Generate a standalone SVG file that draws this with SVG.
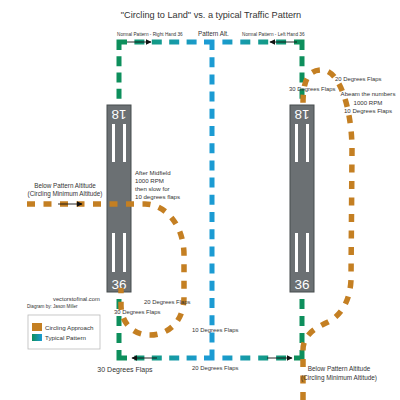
<svg xmlns="http://www.w3.org/2000/svg" width="400" height="400" viewBox="0 0 400 400">
<defs>
<linearGradient id="gH" gradientUnits="userSpaceOnUse" x1="119" y1="0" x2="302" y2="0">
<stop offset="0" stop-color="#0d8f5c"/>
<stop offset="0.2" stop-color="#139a88"/>
<stop offset="0.45" stop-color="#1b9bd3"/>
<stop offset="0.55" stop-color="#1b9bd3"/>
<stop offset="0.8" stop-color="#139a88"/>
<stop offset="1" stop-color="#0d8f5c"/>
</linearGradient>
<linearGradient id="gL" x1="0" y1="0" x2="1" y2="0">
<stop offset="0" stop-color="#0d8f5c"/>
<stop offset="1" stop-color="#1b9bd3"/>
</linearGradient>
<marker id="ah" viewBox="0 0 10 10" refX="9" refY="5" markerWidth="6" markerHeight="6" orient="auto" markerUnits="userSpaceOnUse">
<path d="M0,0 L10,5 L0,10 z" fill="#111"/>
</marker>
<style>
.t{font-family:"Liberation Sans",Arial,sans-serif;fill:#333}
.pat{fill:none;stroke-width:5;stroke-linecap:butt}
.cor{fill:none;stroke-width:5;stroke-linejoin:miter;stroke-linecap:butt}
.grn{stroke:#0d8f5c}
.blu{stroke:#1b9bd3}
.hor{stroke:url(#gH)}
.orn{fill:none;stroke:#c47f22;stroke-width:5.5;stroke-dasharray:8 8.5}
.rw{fill:#6b7073;stroke:#474c4e;stroke-width:1}
.str{fill:#ffffff}
.num{font-family:"Liberation Sans",Arial,sans-serif;fill:#ffffff;font-size:13.5px;text-anchor:middle}
.arr{stroke:#111;stroke-width:0.9;fill:none;marker-end:url(#ah)}
</style>
</defs>
<rect width="400" height="400" fill="#ffffff"/>

<g id="traffic-pattern">
<!-- corners -->
<path class="cor grn" d="M119,50 L119,42 L127,42"/>
<path class="cor blu" d="M204,42 L212,42 L212,50"/>
<path class="cor grn" d="M294,42 L302,42 L302,50"/>
<path class="cor grn" d="M119,350 L119,358 L127,358"/>
<path class="cor blu" d="M204,358 L212,358 L212,350"/>
<path class="cor grn" d="M294,358 L302,358 L302,350"/>
<!-- top line -->
<path class="pat hor" d="M127,42 L204,42" stroke-dasharray="10 7.4" stroke-dashoffset="10"/>
<path class="pat hor" d="M214.5,42 L294,42" stroke-dasharray="10 7.9" stroke-dashoffset="10"/>
<!-- bottom line -->
<path class="pat hor" d="M127,358 L204,358" stroke-dasharray="10 7.4" stroke-dashoffset="10"/>
<path class="pat hor" d="M214.5,358 L294,358" stroke-dasharray="10 7.9" stroke-dashoffset="10"/>
<!-- verticals -->
<path class="pat grn" d="M119,50 L119,105" stroke-dasharray="10 6.25" stroke-dashoffset="10"/>
<path class="pat grn" d="M119,292 L119,350" stroke-dasharray="10 7" stroke-dashoffset="10"/>
<path class="pat grn" d="M302,50 L302,105" stroke-dasharray="10 6.25" stroke-dashoffset="10"/>
<path class="pat grn" d="M302,292 L302,350" stroke-dasharray="10 7" stroke-dashoffset="10"/>
<path class="pat blu" d="M212,50 L212,350" stroke-dasharray="10 7.2" stroke-dashoffset="10"/>
</g>

<g id="runway-left">
<rect class="rw" x="107" y="105" width="24" height="187"/>
<rect class="str" x="112" y="124" width="3" height="38"/>
<rect class="str" x="123" y="124" width="3" height="38"/>
<rect class="str" x="112" y="233" width="3" height="39"/>
<rect class="str" x="123" y="233" width="3" height="39"/>
<text class="num" x="119" y="118.5" transform="rotate(180 119 114)">18</text>
<text class="num" x="119" y="289">36</text>
</g>

<g id="runway-right">
<rect class="rw" x="290" y="105" width="24" height="187"/>
<rect class="str" x="295" y="124" width="3" height="38"/>
<rect class="str" x="306" y="124" width="3" height="38"/>
<rect class="str" x="295" y="233" width="3" height="39"/>
<rect class="str" x="306" y="233" width="3" height="39"/>
<text class="num" x="302" y="118.5" transform="rotate(180 302 114)">18</text>
<text class="num" x="302" y="289">36</text>
</g>

<g id="connectors">
<path class="orn" d="M27,204 L145,204 C165,204 184,225 184,255 L184,297 C184,322 168,335 150,335 C132,335 121,322 121,305 L121,288"/>
<path class="orn" d="M303,400 L303,350 C303,335 315,328 328,322 C342,315 350,300 351,280 L352,150 C352,110 340,70 322,70 C308,70 303,80 303,104"/>
<path class="arr" d="M58,204 L82,204"/>
<path class="arr" d="M127,42 L151,42"/>
<path class="arr" d="M297,42 L270,42"/>
<path class="arr" d="M157,358 L132,358"/>
<path class="arr" d="M267,358 L292,358"/>
</g>

<g id="labels">
<text class="t" x="211" y="18" font-size="9.2" text-anchor="middle">"Circling to Land" vs. a typical Traffic Pattern</text>
<text class="t" x="117" y="36" font-size="4.7">Normal Pattern - Right Hand 36</text>
<text class="t" x="198" y="36" font-size="6.3">Pattern Alt.</text>
<text class="t" x="242" y="36" font-size="4.7">Normal Pattern - Left Hand 36</text>
<text class="t" x="335" y="81" font-size="5.9">20 Degrees Flaps</text>
<text class="t" x="289" y="91" font-size="5.9">30 Degrees Flaps</text>
<text class="t" x="368" y="96" font-size="6.1" text-anchor="middle">Abeam the numbers</text>
<text class="t" x="368" y="105" font-size="6.1" text-anchor="middle">1000 RPM</text>
<text class="t" x="368" y="113" font-size="6.1" text-anchor="middle">10 Degrees Flaps</text>
<text class="t" x="65" y="188" font-size="6.3" text-anchor="middle">Below Pattern Altitude</text>
<text class="t" x="65" y="196" font-size="6.3" text-anchor="middle">(Circling Minimum Altitude)</text>
<text class="t" x="135" y="175" font-size="6.1">After Midfield</text>
<text class="t" x="135" y="183" font-size="6.1">1000 RPM</text>
<text class="t" x="135" y="191" font-size="6.1">then slow for</text>
<text class="t" x="135" y="199" font-size="6.1">10 degrees flaps</text>
<text class="t" x="53" y="301" font-size="5.8">vectorstofinal.com</text>
<text class="t" x="27" y="308" font-size="4.6">Diagram by:  Jason Miller</text>
<text class="t" x="144" y="304" font-size="5.9">20 Degrees Flaps</text>
<text class="t" x="114" y="314" font-size="5.9">30 Degrees Flaps</text>
<text class="t" x="192" y="332" font-size="5.9">10 Degrees Flaps</text>
<text class="t" x="125" y="372" font-size="7" text-anchor="middle">30 Degrees Flaps</text>
<text class="t" x="192" y="370" font-size="5.9">20 Degrees Flaps</text>
<text class="t" x="339" y="371" font-size="6.4" text-anchor="middle">Below Pattern Altitude</text>
<text class="t" x="339" y="380" font-size="6.4" text-anchor="middle">(Circling Minimum Altitude)</text>
</g>

<g id="legend">
<rect x="28" y="315" width="72" height="34" fill="#ffffff" stroke="#bbbbbb" stroke-width="0.8"/>
<rect x="32" y="323" width="10" height="8" fill="#c47f22"/>
<rect x="32" y="334" width="10" height="7" fill="url(#gL)"/>
<text class="t" x="45" y="330" font-size="6.2">Circling Approach</text>
<text class="t" x="45" y="340" font-size="6.2">Typical Pattern</text>
</g>
</svg>
